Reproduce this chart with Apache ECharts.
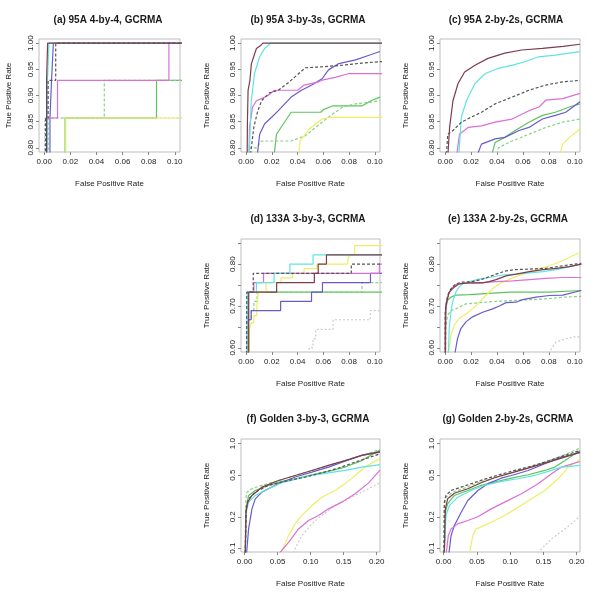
<!DOCTYPE html>
<html><head><meta charset="utf-8">
<script src="https://cdn.jsdelivr.net/npm/echarts@6/dist/echarts.min.js"></script>
<style>html,body{margin:0;padding:0;background:#fff}#c{width:600px;height:600px}</style>
</head><body><div id="c"></div>
<script>
// ---------- data: ROC curves [FPR, TPR], series order S1..S9 ----------
const seriesNames = ['S1','S2','S3','S4','S5','S6','S7','S8','S9'];

// (a) 95A 4-by-4 (step curves: [fpr where TPR jumps, new TPR])
const panelA = [
  [[0,0],[0.0018,0.929],[0.0026,1.0],[0.106,1.0]],
  [[0,0],[0.0025,0.929],[0.0036,1.0],[0.106,1.0]],
  [[0,0],[0.001,0.857],[0.003,0.929],[0.0088,1.0],[0.106,1.0]],
  [[0,0],[0.002,0.857],[0.0102,0.929],[0.0955,1.0],[0.106,1.0]],
  [[0,0],[0.0044,0.857],[0.0056,0.929],[0.007,1.0],[0.106,1.0]],
  [[0,0],[0.016,0.857],[0.086,0.929],[0.106,0.929]],
  [[0,0],[0.003,0.857],[0.046,0.929],[0.106,0.929]],
  [[0,0],[0.0165,0.857],[0.106,0.857]],
  [[0,0],[0.0003,0.857],[0.106,0.857]]
];
// (b) 95A 3-by-3s
const panelB = [
  [[0.0005,0.70],[0.001,0.85],[0.0015,0.91],[0.003,0.93],[0.004,0.96],[0.006,0.975],[0.008,0.99],[0.011,0.995],[0.013,1.0],[0.106,1.0]],
  [[0.0015,0.70],[0.0025,0.80],[0.004,0.89],[0.0065,0.942],[0.0105,0.974],[0.0144,0.99],[0.019,1.0],[0.106,1.0]],
  [[0.002,0.75],[0.004,0.80],[0.006,0.84],[0.009,0.87],[0.012,0.89],[0.018,0.905],[0.025,0.91],[0.033,0.925],[0.04,0.94],[0.046,0.953],[0.06,0.955],[0.075,0.958],[0.09,0.962],[0.106,0.965]],
  [[0.002,0.75],[0.0026,0.839],[0.005,0.878],[0.008,0.89],[0.012,0.894],[0.017,0.90],[0.022,0.91],[0.04,0.91],[0.045,0.92],[0.055,0.925],[0.06,0.93],[0.07,0.935],[0.08,0.942],[0.106,0.942]],
  [[0.007,0.75],[0.0105,0.826],[0.0144,0.846],[0.02,0.859],[0.025,0.871],[0.03,0.884],[0.035,0.897],[0.043,0.91],[0.051,0.92],[0.059,0.932],[0.064,0.949],[0.072,0.961],[0.085,0.968],[0.0955,0.977],[0.104,0.984]],
  [[0.02,0.75],[0.0236,0.826],[0.029,0.846],[0.035,0.868],[0.058,0.868],[0.06,0.873],[0.067,0.88],[0.09,0.88],[0.097,0.89],[0.104,0.897]],
  [[0.001,0.75],[0.003,0.80],[0.008,0.80],[0.012,0.813],[0.035,0.813],[0.046,0.823],[0.054,0.839],[0.059,0.849],[0.064,0.859],[0.075,0.878],[0.085,0.884],[0.0955,0.887],[0.104,0.89]],
  [[0.039,0.75],[0.042,0.813],[0.048,0.833],[0.054,0.846],[0.059,0.855],[0.064,0.858],[0.106,0.858]],
  []
];
// (c) 95A 2-by-2s
const panelC = [
  [[0.0012,0.75],[0.0034,0.839],[0.006,0.89],[0.0099,0.923],[0.015,0.945],[0.023,0.958],[0.033,0.971],[0.046,0.981],[0.059,0.987],[0.075,0.99],[0.091,0.994],[0.104,0.998]],
  [[0.0095,0.75],[0.0125,0.859],[0.0164,0.89],[0.023,0.923],[0.031,0.942],[0.041,0.952],[0.052,0.958],[0.062,0.965],[0.072,0.974],[0.085,0.977],[0.104,0.984]],
  [[0.0,0.75],[0.002,0.826],[0.006,0.833],[0.0125,0.849],[0.0203,0.859],[0.028,0.868],[0.0385,0.884],[0.0516,0.897],[0.0646,0.91],[0.0776,0.92],[0.0906,0.926],[0.104,0.929]],
  [[0.007,0.75],[0.011,0.826],[0.0177,0.839],[0.028,0.842],[0.0385,0.849],[0.0516,0.855],[0.0646,0.871],[0.0724,0.878],[0.0776,0.891],[0.0906,0.894],[0.104,0.904]],
  [[0.019,0.75],[0.028,0.807],[0.0385,0.817],[0.046,0.82],[0.057,0.833],[0.0646,0.839],[0.075,0.855],[0.085,0.862],[0.093,0.868],[0.104,0.888]],
  [[0.032,0.75],[0.0385,0.81],[0.046,0.82],[0.054,0.833],[0.0646,0.849],[0.075,0.862],[0.085,0.868],[0.0958,0.878],[0.104,0.884]],
  [[0.038,0.75],[0.041,0.80],[0.0516,0.813],[0.0646,0.826],[0.0776,0.839],[0.0906,0.849],[0.104,0.855]],
  [[0.085,0.75],[0.0906,0.807],[0.0958,0.82],[0.104,0.836]],
  []
];
// (d) 133A 3-by-3 (step curves)
const panelD = [
  [[0,0],[0.002,0.733],[0.0237,0.756],[0.053,0.778],[0.056,0.80],[0.0624,0.822],[0.106,0.822]],
  [[0,0],[0.001,0.733],[0.008,0.756],[0.0217,0.778],[0.034,0.80],[0.052,0.822],[0.106,0.822]],
  [[0,0],[0.0005,0.733],[0.0055,0.778],[0.0817,0.80],[0.106,0.80]],
  [[0,0],[0.001,0.733],[0.006,0.756],[0.0135,0.778],[0.1035,0.80],[0.106,0.80]],
  [[0,0],[0.0013,0.667],[0.0039,0.689],[0.0268,0.711],[0.0508,0.733],[0.0593,0.756],[0.0966,0.778],[0.106,0.778]],
  [[0,0],[0.0018,0.733],[0.106,0.733]],
  [[0,0],[0.0005,0.667],[0.004,0.689],[0.006,0.711],[0.0085,0.733],[0.09,0.756],[0.106,0.756]],
  [[0,0],[0.0025,0.646],[0.004,0.66],[0.006,0.677],[0.0083,0.70],[0.0095,0.733],[0.0155,0.756],[0.027,0.767],[0.036,0.778],[0.045,0.789],[0.055,0.80],[0.079,0.811],[0.0805,0.822],[0.0843,0.844],[0.106,0.844]],
  [[0,0],[0.049,0.6],[0.052,0.622],[0.054,0.644],[0.0675,0.667],[0.0965,0.689],[0.106,0.689]]
];
// (e) 133A 2-by-2s
const panelE = [
  [[0,0.5],[0.0005,0.70],[0.0031,0.733],[0.007,0.745],[0.0108,0.753],[0.0186,0.755],[0.0289,0.755],[0.034,0.758],[0.0392,0.763],[0.0469,0.772],[0.0546,0.776],[0.065,0.782],[0.0753,0.787],[0.0856,0.79],[0.0959,0.794],[0.105,0.80]],
  [[0.0015,0.5],[0.0031,0.646],[0.0044,0.685],[0.0057,0.709],[0.0082,0.733],[0.0108,0.745],[0.0134,0.753],[0.0186,0.758],[0.0263,0.764],[0.034,0.768],[0.0443,0.774],[0.0546,0.776],[0.065,0.779],[0.0753,0.782],[0.0856,0.787],[0.0959,0.794],[0.105,0.80]],
  [[0,0.5],[0,0.685],[0.0005,0.70],[0.0018,0.725],[0.0044,0.741],[0.0082,0.753],[0.0134,0.757],[0.0211,0.758],[0.0289,0.764],[0.0392,0.776],[0.0469,0.784],[0.0546,0.787],[0.065,0.788],[0.0778,0.79],[0.0907,0.796],[0.105,0.802]],
  [[0,0.5],[0,0.677],[0.001,0.709],[0.0026,0.729],[0.0057,0.745],[0.0095,0.753],[0.016,0.755],[0.0263,0.755],[0.0392,0.758],[0.0521,0.76],[0.065,0.763],[0.0778,0.766],[0.0907,0.768],[0.105,0.768]],
  [[0.0075,0.5],[0.0077,0.59],[0.0095,0.622],[0.0121,0.646],[0.016,0.662],[0.0211,0.674],[0.0289,0.685],[0.0366,0.693],[0.0418,0.70],[0.0469,0.708],[0.0546,0.709],[0.0598,0.715],[0.0701,0.721],[0.0804,0.725],[0.0907,0.726],[0.105,0.737]],
  [[0,0.5],[0,0.646],[0.0005,0.693],[0.0018,0.713],[0.0044,0.721],[0.0082,0.726],[0.0186,0.727],[0.034,0.73],[0.0495,0.733],[0.065,0.733],[0.0804,0.733],[0.105,0.737]],
  [[0,0.5],[0.0005,0.646],[0.0018,0.677],[0.0044,0.689],[0.0082,0.693],[0.016,0.705],[0.0263,0.708],[0.0392,0.711],[0.0521,0.713],[0.065,0.715],[0.0778,0.717],[0.0907,0.721],[0.105,0.723]],
  [[0.0024,0.5],[0.0026,0.59],[0.0044,0.63],[0.007,0.654],[0.0108,0.67],[0.016,0.681],[0.0211,0.693],[0.0263,0.709],[0.0314,0.725],[0.0366,0.741],[0.0418,0.753],[0.0495,0.764],[0.0598,0.776],[0.0701,0.787],[0.0804,0.796],[0.0907,0.808],[0.0985,0.82],[0.105,0.829]],
  [[0.078,0.5],[0.0804,0.59],[0.0856,0.614],[0.0933,0.622],[0.0985,0.626],[0.105,0.626]]
];
// (f) Golden 3-by-3 (log TPR axis)
const panelF = [
  [[0.001,0.09],[0.002,0.22],[0.0045,0.276],[0.0111,0.32],[0.0262,0.384],[0.0514,0.445],[0.0766,0.497],[0.1018,0.555],[0.127,0.62],[0.1521,0.69],[0.1773,0.773],[0.205,0.832]],
  [[0.001,0.09],[0.0025,0.22],[0.006,0.276],[0.0161,0.32],[0.0363,0.371],[0.0564,0.423],[0.0766,0.455],[0.1018,0.497],[0.127,0.527],[0.1521,0.555],[0.1773,0.598],[0.205,0.63]],
  [[0.001,0.09],[0.0025,0.238],[0.006,0.297],[0.0161,0.344],[0.0363,0.40],[0.0665,0.445],[0.0917,0.48],[0.1169,0.527],[0.142,0.585],[0.1673,0.667],[0.205,0.80]],
  [[0.053,0.09],[0.0665,0.114],[0.0816,0.153],[0.0967,0.184],[0.1118,0.206],[0.127,0.238],[0.1471,0.276],[0.1673,0.332],[0.1874,0.42],[0.205,0.56]],
  [[0.003,0.09],[0.006,0.153],[0.0111,0.238],[0.0161,0.297],[0.0262,0.344],[0.0363,0.371],[0.0514,0.415],[0.0766,0.48],[0.1018,0.535],[0.127,0.598],[0.1521,0.68],[0.1773,0.773],[0.205,0.84]],
  [[0.001,0.09],[0.002,0.238],[0.006,0.32],[0.0161,0.357],[0.0363,0.40],[0.0564,0.436],[0.0766,0.462],[0.1018,0.505],[0.127,0.544],[0.1521,0.598],[0.1773,0.69],[0.205,0.87]],
  [[0.0005,0.09],[0.002,0.3],[0.0035,0.344],[0.0111,0.371],[0.0262,0.40],[0.0514,0.445],[0.0766,0.497],[0.1018,0.555],[0.127,0.62],[0.1521,0.69],[0.1773,0.773],[0.205,0.88]],
  [[0.055,0.09],[0.0665,0.132],[0.0766,0.171],[0.0866,0.206],[0.1018,0.256],[0.1169,0.308],[0.137,0.357],[0.1521,0.415],[0.1673,0.497],[0.1824,0.598],[0.205,0.72]],
  [[0.073,0.09],[0.0866,0.132],[0.1018,0.171],[0.1169,0.206],[0.137,0.256],[0.1572,0.297],[0.1773,0.344],[0.205,0.423]]
];
// (g) Golden 2-by-2s (log TPR axis)
const panelG = [
  [[0.001,0.09],[0.0025,0.238],[0.006,0.297],[0.0161,0.336],[0.0363,0.371],[0.0564,0.423],[0.0766,0.473],[0.1018,0.527],[0.127,0.585],[0.1521,0.653],[0.1773,0.729],[0.205,0.832]],
  [[0.001,0.09],[0.0035,0.206],[0.0086,0.256],[0.0212,0.308],[0.0413,0.357],[0.0615,0.40],[0.0866,0.436],[0.1118,0.462],[0.137,0.497],[0.1572,0.544],[0.1773,0.598],[0.205,0.62]],
  [[0.0005,0.09],[0.001,0.276],[0.0035,0.32],[0.0111,0.357],[0.0262,0.384],[0.0514,0.436],[0.0766,0.49],[0.1018,0.544],[0.127,0.598],[0.1521,0.667],[0.1773,0.757],[0.205,0.863]],
  [[0.004,0.09],[0.007,0.132],[0.0111,0.153],[0.0212,0.171],[0.0363,0.184],[0.0514,0.20],[0.0715,0.238],[0.0917,0.276],[0.1169,0.332],[0.142,0.415],[0.1622,0.515],[0.1773,0.598],[0.205,0.676]],
  [[0.008,0.09],[0.0111,0.132],[0.0161,0.165],[0.0262,0.22],[0.0363,0.286],[0.0514,0.357],[0.0665,0.415],[0.0866,0.468],[0.1018,0.497],[0.127,0.555],[0.1521,0.643],[0.1773,0.745],[0.205,0.82]],
  [[0.001,0.09],[0.0025,0.22],[0.006,0.266],[0.0161,0.32],[0.0363,0.357],[0.0564,0.40],[0.0766,0.429],[0.1018,0.468],[0.127,0.505],[0.1521,0.555],[0.1673,0.598],[0.1824,0.69],[0.205,0.863]],
  [[0.0005,0.09],[0.001,0.25],[0.0035,0.308],[0.0136,0.344],[0.0312,0.376],[0.0514,0.423],[0.0766,0.473],[0.1018,0.527],[0.127,0.589],[0.1521,0.667],[0.1773,0.763],[0.205,0.909]],
  [[0.039,0.09],[0.0438,0.132],[0.0489,0.153],[0.0564,0.16],[0.0715,0.177],[0.0917,0.206],[0.1118,0.246],[0.132,0.297],[0.1521,0.357],[0.1723,0.462],[0.1874,0.598],[0.205,0.708]],
  [[0.141,0.09],[0.1622,0.123],[0.1824,0.153],[0.205,0.202]]
];

const titles = ['(a) 95A 4-by-4, GCRMA','(b) 95A 3-by-3s, GCRMA','(c) 95A 2-by-2s, GCRMA',
  '(d) 133A 3-by-3, GCRMA','(e) 133A 2-by-2s, GCRMA','(f) Golden 3-by-3, GCRMA','(g) Golden 2-by-2s, GCRMA'];
const xTicks10 = [0,0.02,0.04,0.06,0.08,0.1];
const xTicks20 = [0,0.05,0.1,0.15,0.2];
const yTicks95 = [0.8,0.85,0.9,0.95,1.0];
const yTicks133 = [0.6,0.65,0.7,0.75,0.8,0.85];
const yLabels133 = [0.6,0.7,0.8];
const yTicksLog = [0.1,0.2,0.5,1.0];
const xTitle = 'False Positive Rate';
const yTitle = 'True Positive Rate';

// ---------- layout & style ----------
const colors = ['#7d3c4a','#5fe3e3','#555555','#da70d6','#6a5acd','#5cc45c','#86d286','#eeee66','#cccccc'];
const dashes = [null,null,[3,2],null,null,null,[3,2],null,[2,2]];
const drawOrder = [8,5,6,7,4,3,1,2,0];
const layout = [
  {data:panelA, step:true,  left:39,  top:39,  w:141, h:113, xr:[-0.004,0.104], yr:[0.792,1.008], xt:xTicks10, yt:yTicks95, yl:yTicks95, log:false, tx:108, ty:20, yGap:26},
  {data:panelB, step:false, left:241, top:39,  w:139, h:113, xr:[-0.004,0.104], yr:[0.792,1.008], xt:xTicks10, yt:yTicks95, yl:yTicks95, log:false, tx:308, ty:20, yGap:30},
  {data:panelC, step:false, left:440, top:39,  w:140, h:113, xr:[-0.004,0.104], yr:[0.792,1.008], xt:xTicks10, yt:yTicks95, yl:yTicks95, log:false, tx:506, ty:20, yGap:30},
  {data:panelD, step:true,  left:241, top:239, w:139, h:113, xr:[-0.004,0.104], yr:[0.59,0.86], xt:xTicks10, yt:yTicks133, yl:yLabels133, log:false, tx:308, ty:219, yGap:30},
  {data:panelE, step:false, left:440, top:239, w:140, h:113, xr:[-0.004,0.104], yr:[0.59,0.86], xt:xTicks10, yt:yTicks133, yl:yLabels133, log:false, tx:508, ty:219, yGap:30},
  {data:panelF, step:false, left:241, top:439, w:139, h:113, xr:[-0.0055,0.205], yr:[0.092,1.11], xt:xTicks20, yt:yTicksLog, yl:yTicksLog, log:true, tx:308, ty:419, yGap:30},
  {data:panelG, step:false, left:440, top:439, w:140, h:113, xr:[-0.0055,0.205], yr:[0.092,1.11], xt:xTicks20, yt:yTicksLog, yl:yTicksLog, log:true, tx:508, ty:419, yGap:30}
];
const FONT = 'Liberation Sans, Arial, sans-serif';

const grids=[], xAxes=[], yAxes=[], series=[], graphics=[];
layout.forEach((p,i)=>{
  grids.push({left:p.left, top:p.top, width:p.w, height:p.h, show:true, borderColor:'#bdbdbd', borderWidth:1, backgroundColor:'#fff'});
  xAxes.push({type:'value', gridIndex:i, min:p.xr[0], max:p.xr[1],
    name:xTitle, nameLocation:'middle', nameGap:28,
    nameTextStyle:{fontSize:8, color:'#222', fontFamily:FONT},
    axisLine:{show:false, onZero:false}, splitLine:{show:false},
    axisTick:{show:true, customValues:p.xt, length:3, lineStyle:{color:'#888', width:1}},
    axisLabel:{customValues:p.xt, formatter:v=>v.toFixed(2), margin:6, fontSize:8, color:'#222', fontFamily:FONT}});
  yAxes.push({type:p.log?'log':'value', logBase:10, gridIndex:i, min:p.yr[0], max:p.yr[1],
    name:yTitle, nameLocation:'middle', nameGap:p.yGap,
    nameTextStyle:{fontSize:8, color:'#222', fontFamily:FONT},
    axisLine:{show:false, onZero:false}, splitLine:{show:false}, minorTick:{show:false},
    axisTick:{show:true, customValues:p.yt, length:3, lineStyle:{color:'#888', width:1}},
    axisLabel:{customValues:p.yl, rotate:90, formatter:v=>p.log?Number(v).toFixed(1):Number(v).toFixed(2), margin:4, fontSize:8, color:'#222', fontFamily:FONT}});
  drawOrder.forEach(k=>{
    const pts = p.data[k];
    if (!pts || !pts.length) return;
    series.push({type:'line', name:seriesNames[k], xAxisIndex:i, yAxisIndex:i, data:pts,
      step: p.step ? 'end' : false, clip:true, symbol:'none', showSymbol:false, silent:true,
      lineStyle:{color:colors[k], width:1.2, type: dashes[k] ? dashes[k] : 'solid'}, z:2});
  });
  graphics.push({type:'text', x:p.tx, y:p.ty, silent:true,
    style:{text:titles[i], fill:'#1a1a1a', font:'bold 10px '+FONT, fontSize:10, fontWeight:'bold', fontFamily:FONT,
      align:'center', verticalAlign:'middle', textAlign:'center', textVerticalAlign:'middle'}});
});

const chart = echarts.init(document.getElementById('c'), null, {renderer:'canvas'});
chart.setOption({animation:false, backgroundColor:'#fff', grid:grids, xAxis:xAxes, yAxis:yAxes, series:series, graphic:graphics});
</script></body></html>
